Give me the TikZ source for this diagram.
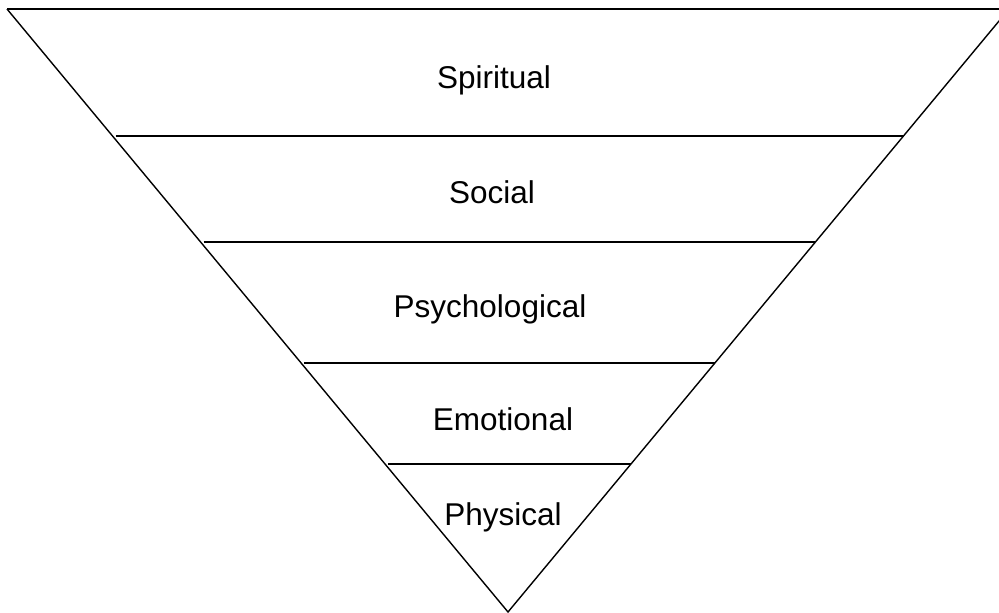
\documentclass[tikz,border=0pt]{standalone}
\usepackage{fontspec}
\setmainfont{Liberation Sans}
\begin{document}
\begin{tikzpicture}[x=1pt,y=-1pt,
  edge/.style={line width=1.4pt,black},
  lbl/.style={font=\fontsize{31.5}{36}\selectfont,inner sep=0pt,anchor=center}]
\useasboundingbox (0,0) rectangle (999,613);
\clip (0,0) rectangle (999,613);
\coordinate (tl) at (7,9);
\coordinate (tr) at (1009,9);
\coordinate (ap) at (508,612);
\draw[edge,line width=2pt] (tl) -- (tr);
\draw[edge] (tl) -- (ap) -- (tr);
\foreach \y/\n in {136/a,242/b,363/c,464/d}{
  \path (tl) -- (ap) coordinate[pos={(\y-9)/603}] (l\n);
  \path (tr) -- (ap) coordinate[pos={(\y-9)/603}] (r\n);
  \draw[edge] ([xshift=3pt]l\n) -- (r\n);
}
\node[lbl] (spiritual) at (494,80) {Spiritual};
\node[lbl] (social) at (492,192) {Social};
\node[lbl] (psych) at (490,309) {Psychological};
\node[lbl] (emot) at (503,419) {Emotional};
\node[lbl] (phys) at (503,517) {Physical};
\end{tikzpicture}
\end{document}
